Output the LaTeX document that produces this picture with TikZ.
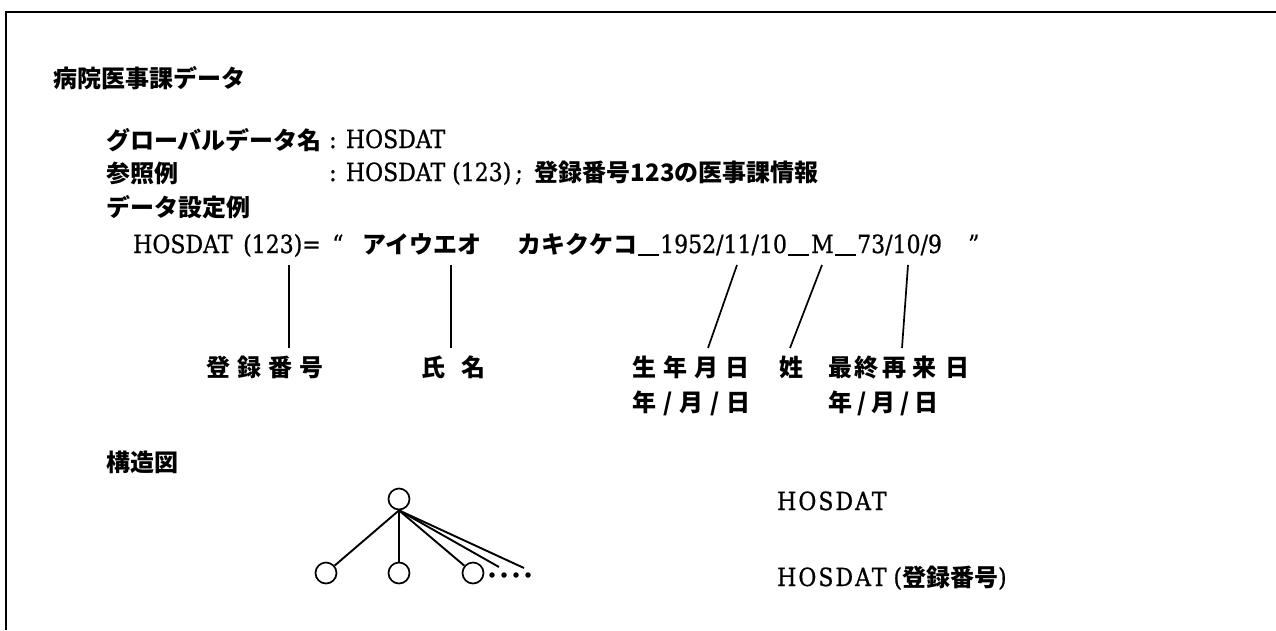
\documentclass[tikz,border=0pt]{standalone}
\usepackage{fontspec}
\setmainfont{DejaVu Serif}[FakeStretch=0.88,FakeBold=0.8]
\newfontfamily\jp{Noto Sans CJK JP}
\newcommand\usc{\rule[-2.5pt]{21pt}{1.7pt}}
\begin{document}
\begin{tikzpicture}[x=1pt,y=-1pt,
  jt/.style={font=\jp\bfseries\fontsize{24}{28}\selectfont, inner sep=0pt, anchor=west},
  lt/.style={font=\fontsize{25}{30}\selectfont, inner sep=0pt, anchor=base west},
  jb/.style={font=\jp\bfseries\fontsize{24}{28}\selectfont, inner sep=0pt, anchor=base west},
  lab/.style={font=\jp\bfseries\fontsize{24}{28}\selectfont, inner sep=0pt, anchor=west},
  conn/.style={line width=1.7pt},
  frameline/.style={line width=2.6pt},
  tnode/.style={circle, draw, line width=1.7pt, minimum size=21pt, inner sep=0pt},
  dotn/.style={circle, fill, minimum size=5.5pt, inner sep=0pt},
  tline/.style={line width=1.9pt}
  ]
\useasboundingbox (0,0) rectangle (1276,630);
\draw[frameline] (1276,12) -- (6,12) -- (6,630);

% headings
\node[jt] (title) at (53,78) {病院医事課データ};
\node[jt] (gname) at (106,140) {グローバルデータ名};
\node[lt] (gval) at (329,148) {: HOSDAT};
\node[jt] (refn) at (106,173) {参照例};
\node[lt] (refv) at (329,181) {: HOSDAT (123)\hspace{4pt};\hspace{12pt}{\jp\bfseries\fontsize{24}{28}\selectfont 登録番号123の医事課情報}};
\node[jt] (setn) at (106,207) {データ設定例};

% main line
\node[lt] (m1) at (133,253) {HOSDAT};
\node[lt] (m2) at (243,253) {(123)=};
\node[lt] (m4) at (332,253) {“};
\node[jb] (m5) at (362,253) {アイウエオ};
\node[jb] (m6) at (517,253) {カキクケコ};
\node[lt] (m7) at (638,253) {\usc};
\node[lt] (m8) at (660,253) {1952/11/10};
\node[lt] (m9) at (788,253) {\usc};
\node[lt] (m10) at (811,253) {M};
\node[lt] (m11) at (835,253) {\usc};
\node[lt] (m12) at (857,253) {73/10/9};
\node[lt] (m13) at (968,253) {”};

% labels
\node[lab] (l1) at (206,367) {登\hspace{7pt}録\hspace{7pt}番\hspace{7pt}号};
\node[lab] (l2) at (421,367) {氏\hspace{16pt}名};
\node[lab] (l3) at (632,367) {生\hspace{7pt}年\hspace{7pt}月\hspace{7pt}日};
\node[lab] (l4) at (779,367) {姓};
\node[lab] (l5) at (828,367) {最\hspace{2pt}終\hspace{4pt}再\hspace{6pt}来\hspace{9pt}日};
\node[lab] (l6) at (632,403) {年\hspace{7pt}/\hspace{7pt}月\hspace{7pt}/\hspace{7pt}日};
\node[lab] (l7) at (828,403) {年\hspace{5pt}/\hspace{5pt}月\hspace{5pt}/\hspace{5pt}日};

% connector ends
\coordinate (t1) at (289,265); \coordinate (b1) at (289,348);
\coordinate (t2) at (451,265); \coordinate (b2) at (451,348);
\coordinate (t3) at (737,265); \coordinate (b3) at (708,348);
\coordinate (t4) at (822,265); \coordinate (b4) at (790,348);
\coordinate (t5) at (908,265); \coordinate (b5) at (902,348);
\draw[conn] (t1) -- (b1);
\draw[conn] (t2) -- (b2);
\draw[conn] (t3) -- (b3);
\draw[conn] (t4) -- (b4);
\draw[conn] (t5) -- (b5);

% structure diagram
\node[jt] (struct) at (106,462) {構造図};
\node[tnode] (r0) at (399,499) {};
\node[tnode] (c1) at (326,573) {};
\node[tnode] (c2) at (399,573) {};
\node[tnode] (c3) at (473,573) {};
\node[dotn] (d1) at (492,575) {};
\node[dotn] (d2) at (504,575) {};
\node[dotn] (d3) at (516,575) {};
\node[dotn] (d4) at (528,575) {};
\coordinate (e1) at (499,567);
\coordinate (e2) at (524,568);
\draw[tline] (r0.south) -- (c1);
\draw[tline] (r0.south) -- (c2);
\draw[tline] (r0.south) -- (c3);
\draw[tline] (r0.south) -- (e1);
\draw[tline] (r0.south) -- (e2);

\node[lt, font=\fontsize{25}{30}\selectfont\addfontfeature{LetterSpace=8}] (h1) at (777,510) {HOSDAT};
\node[lt] (h2) at (777,586) {{\addfontfeature{LetterSpace=8}HOSDAT} ({\jp\bfseries\fontsize{24}{28}\selectfont 登録番号})};
\end{tikzpicture}
\end{document}
